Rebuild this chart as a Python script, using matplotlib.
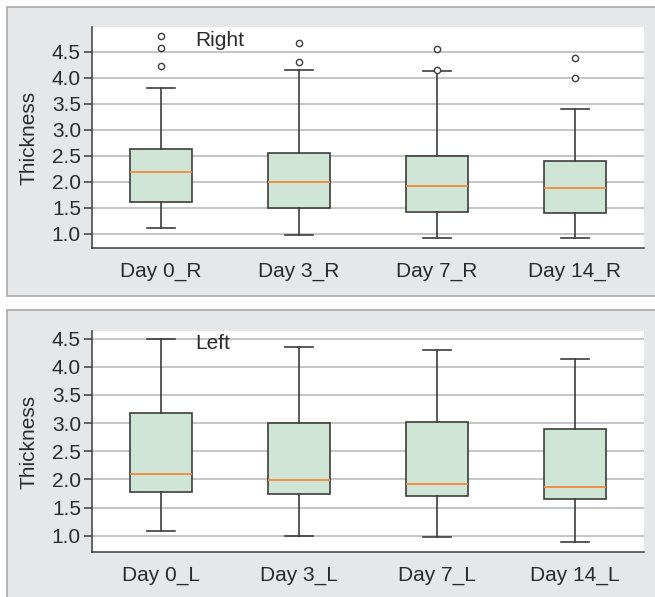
import matplotlib.pyplot as plt
from matplotlib.patches import Rectangle

plt.rcParams['font.family'] = ['Liberation Sans', 'DejaVu Sans']

# Box summary values (thickness) per time point
labels_r = ['Day 0_R', 'Day 3_R', 'Day 7_R', 'Day 14_R']
q1_r = [1.61, 1.49, 1.42, 1.39]
med_r = [2.19, 2.00, 1.91, 1.88]
q3_r = [2.62, 2.56, 2.50, 2.40]
lo_r = [1.10, 0.98, 0.91, 0.91]
hi_r = [3.80, 4.14, 4.12, 3.40]
fliers_r = [[4.23, 4.58, 4.80], [4.30, 4.67], [4.15, 4.56], [4.00, 4.37]]

labels_l = ['Day 0_L', 'Day 3_L', 'Day 7_L', 'Day 14_L']
q1_l = [1.78, 1.74, 1.71, 1.65]
med_l = [2.10, 1.99, 1.91, 1.87]
q3_l = [3.18, 3.00, 3.02, 2.90]
lo_l = [1.08, 1.00, 0.98, 0.89]
hi_l = [4.49, 4.35, 4.30, 4.14]
fliers_l = [[], [], [], []]

yticks = [1.0, 1.5, 2.0, 2.5, 3.0, 3.5, 4.0, 4.5]

box_fill = '#cfe6d6'
edge = '#3d3d3d'
text_col = '#2b2b2b'
panel_bg = '#e6e7e9'
panel_edge = '#a8a8a8'


def make_stats(labels, q1, med, q3, lo, hi, fliers):
    stats = []
    for i in range(len(labels)):
        stats.append(dict(label=labels[i], q1=q1[i], med=med[i], q3=q3[i],
                          whislo=lo[i], whishi=hi[i], fliers=fliers[i]))
    return stats


def draw_panel(ax, stats, title, ylim):
    ax.bxp(stats, widths=0.45, capwidths=0.2, patch_artist=True,
           boxprops=dict(facecolor=box_fill, edgecolor=edge, linewidth=1.2),
           medianprops=dict(color='#f28a3c', linewidth=1.3),
           whiskerprops=dict(color=edge, linewidth=1.2),
           capprops=dict(color=edge, linewidth=1.2),
           flierprops=dict(marker='o', markersize=4.5, markerfacecolor='white',
                           markeredgecolor=edge, markeredgewidth=1.0))
    ax.set_xlim(0.5, 4.5)
    ax.set_ylim(*ylim)
    ax.set_yticks(yticks)
    ax.set_yticklabels([f'{t:.1f}' for t in yticks])
    ax.yaxis.grid(True, color='#b5b5b5', linewidth=1.1)
    ax.set_axisbelow(True)
    for s in ['top', 'right']:
        ax.spines[s].set_visible(False)
    for s in ['left', 'bottom']:
        ax.spines[s].set_color(edge)
        ax.spines[s].set_linewidth(1.1)
    ax.tick_params(axis='y', labelsize=15, length=6, width=1.1, color=edge,
                   labelcolor=text_col, pad=2)
    ax.tick_params(axis='x', labelsize=15, length=0, pad=10, labelcolor=text_col)
    ax.text(0.187, 0.94, title, transform=ax.transAxes, fontsize=15,
            color=text_col, ha='left', va='center')


fig = plt.figure(figsize=(6.55, 5.97), dpi=100)

# gray panel frames behind each plot
fig.add_artist(Rectangle((0.0107, 0.5042), 1.0, 0.4841, transform=fig.transFigure,
                         facecolor=panel_bg, edgecolor=panel_edge, linewidth=1.2, zorder=0))
fig.add_artist(Rectangle((0.0107, -0.05), 1.0, 0.5307, transform=fig.transFigure,
                         facecolor=panel_bg, edgecolor=panel_edge, linewidth=1.2, zorder=0))

ax1 = fig.add_axes([0.1405, 0.5846, 0.8427, 0.3702])
ax2 = fig.add_axes([0.1405, 0.0749, 0.8427, 0.3712])

draw_panel(ax1, make_stats(labels_r, q1_r, med_r, q3_r, lo_r, hi_r, fliers_r),
           'Right', (0.725, 4.975))
draw_panel(ax2, make_stats(labels_l, q1_l, med_l, q3_l, lo_l, hi_l, fliers_l),
           'Left', (0.705, 4.64))

fig.text(0.045, 0.7697, 'Thickness', rotation=90, fontsize=15, color=text_col,
         ha='center', va='center')
fig.text(0.045, 0.2605, 'Thickness', rotation=90, fontsize=15, color=text_col,
         ha='center', va='center')

fig.savefig('out.png', dpi=100)
